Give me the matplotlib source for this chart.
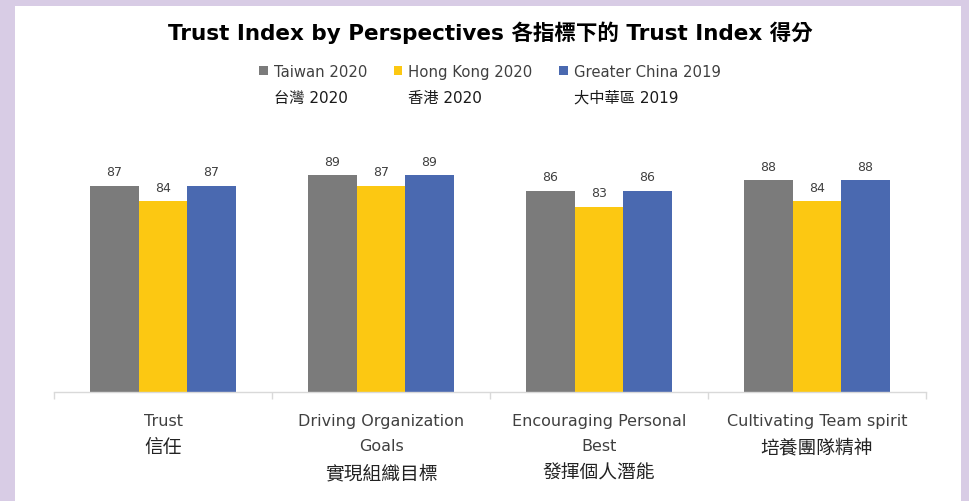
import matplotlib
matplotlib.use("Agg")
import matplotlib.pyplot as plt
from matplotlib.patches import Rectangle
import numpy as np

# ---- data ----
categories_en = ["Trust",
                 "Driving Organization\nGoals",
                 "Encouraging Personal\nBest",
                 "Cultivating Team spirit"]
categories_zh = ["信任", "實現組織目標", "發揮個人潛能", "培養團隊精神"]
series_en = ["Taiwan 2020", "Hong Kong 2020", "Greater China 2019"]
series_zh = ["台灣 2020", "香港 2020", "大中華區 2019"]
taiwan_2020 = [87, 89, 86, 88]
hongkong_2020 = [84, 87, 83, 84]
greater_china_2019 = [87, 89, 86, 88]
title = "Trust Index by Perspectives 各指標下的 Trust Index 得分"

colors = ["#7B7B7B", "#FCC812", "#4A69B0"]
FAM = ["DejaVu Sans", "Noto Sans CJK TC"]
CJK = ["Noto Sans CJK TC", "DejaVu Sans"]
TXT = "#404040"

W, H = 969, 502
fig = plt.figure(figsize=(W / 100, H / 100), dpi=100)
fig.patch.set_facecolor("#D8CCE5")
fig.patches.append(Rectangle((15 / W, 0), (961 - 15) / W, (H - 7) / H,
                             transform=fig.transFigure, facecolor="white",
                             edgecolor="none", zorder=-1))

ax = fig.add_axes([54 / W, 109 / H, 872 / W, 243 / H])
ax.set_facecolor("white")

x = np.arange(len(categories_en))
bw = 0.2225
vals = [taiwan_2020, hongkong_2020, greater_china_2019]
bars = []
for i, (v, c, lab) in enumerate(zip(vals, colors, series_en)):
    b = ax.bar(x + (i - 1) * bw, v, width=bw, color=c, label=lab, zorder=2)
    bars.append(b)
    ax.bar_label(b, padding=5.5, fontsize=9, color=TXT, family=FAM)

ax.set_xlim(-0.5, 3.5)
ax.set_ylim(47.7, 47.7 + 243 / 5.25)
for s in ["top", "left", "right"]:
    ax.spines[s].set_visible(False)
ax.spines["bottom"].set_color("#D9D9D9")
ax.spines["bottom"].set_linewidth(1.0)
ax.set_yticks([])
ax.set_xticks(x)
ax.set_xticklabels(categories_en, family=FAM, fontsize=11.5, color=TXT,
                   linespacing=1.83)
ax.tick_params(axis="x", which="major", length=0, pad=15)
ax.set_xticks(np.arange(-0.5, 4.0, 1.0), minor=True)
ax.tick_params(axis="x", which="minor", length=5, color="#D9D9D9", width=1)

# Chinese line of each category label, below the English lines
for xi, en, zh in zip(x, categories_en, categories_zh):
    nlines = en.count("\n") + 1
    off_px = 54.5 + 26 * (nlines - 1)
    ax.annotate(zh, xy=(xi, 0), xycoords=ax.get_xaxis_transform(),
                xytext=(0, -off_px * 72 / 100), textcoords="offset points",
                ha="center", va="center", fontsize=13.5, family=CJK,
                color="#222222", annotation_clip=False)

fig.text(490 / W, (H - 40) / H, title, ha="center", va="baseline",
         fontsize=15.5, fontweight="bold", family=FAM, color="black")

leg = fig.legend(handles=bars, labels=series_en, loc="upper center",
                 bbox_to_anchor=(490 / W, (H - 65) / H), ncol=3, frameon=False,
                 prop={"family": FAM, "size": 10.7}, labelcolor=TXT,
                 handlelength=0.55, handleheight=0.55, handletextpad=0.42,
                 columnspacing=1.8, borderaxespad=0, borderpad=0)

fig.canvas.draw()
for t, zh in zip(leg.get_texts(), series_zh):
    bb = t.get_window_extent()
    fig.text(bb.x0 / W, (H - 103) / H, zh, ha="left", va="baseline",
             fontsize=11, family=FAM, color="#1A1A1A")

fig.savefig("out.png", dpi=100)
